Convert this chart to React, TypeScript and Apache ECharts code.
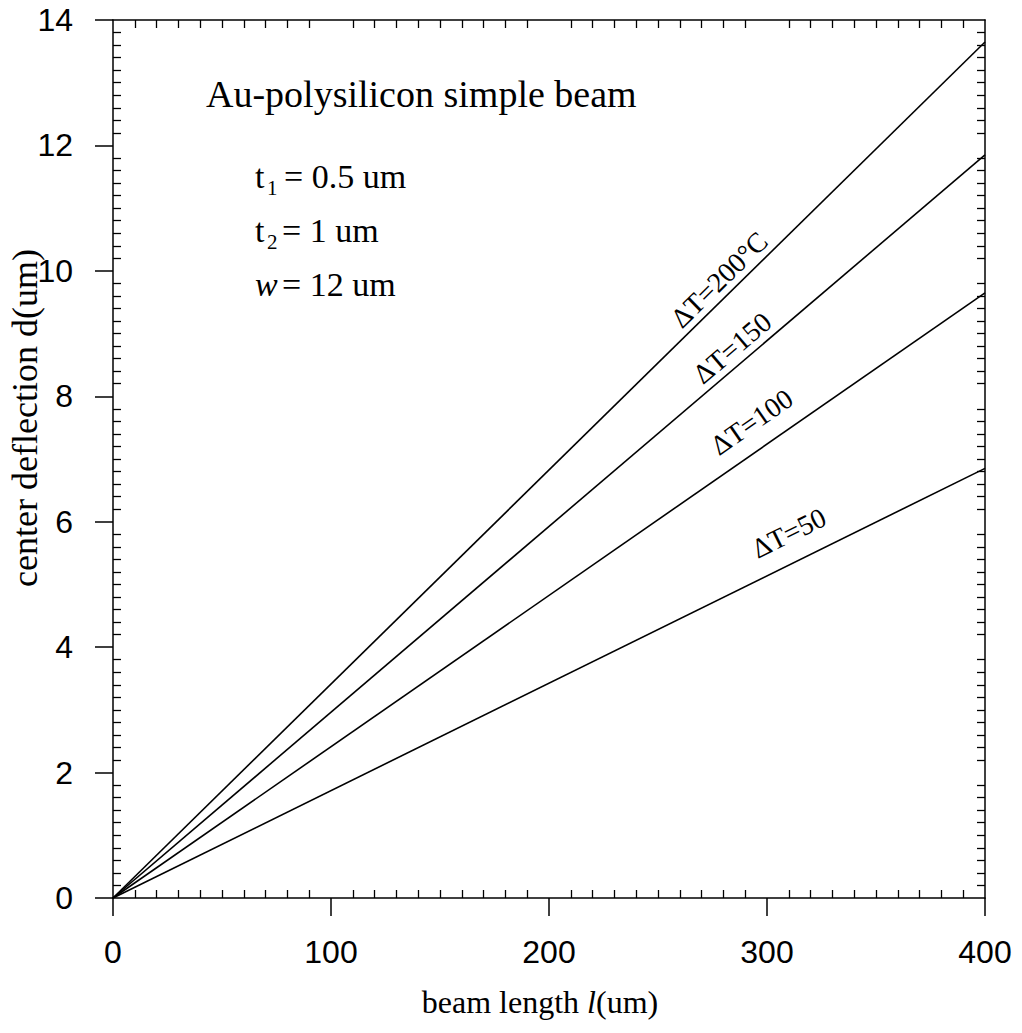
import React, { useEffect, useRef } from "react";
import * as echarts from "echarts";

// ---- data ----
const beamLength = [0, 400];
const deflection200 = [0, 13.65];
const deflection150 = [0, 11.85];
const deflection100 = [0, 9.65];
const deflection50 = [0, 6.85];
const seriesLabels = ["ΔT=200°C", "ΔT=150", "ΔT=100", "ΔT=50"];
// label anchor positions in data coordinates (beam length, deflection)
const labelAnchorX = [278, 284, 293, 310];
const labelAnchorY = [9.86, 8.77, 7.59, 5.82];
const xMin = 0, xMax = 400, xStep = 100;
const yMin = 0, yMax = 14, yStep = 2;

const SERIF = "'Liberation Serif', 'Times New Roman', serif";
const SANS = "'Liberation Sans', Arial, sans-serif";

const App: React.FC = () => {
  const ref = useRef<HTMLDivElement>(null);
  useEffect(() => {
    if (!ref.current) return;
    const chart = echarts.init(ref.current, undefined, { renderer: "svg" });
    const black = "#000";
    const gridRect = { left: 113, top: 20, width: 872, height: 878 };
    const minorTick = { show: true, splitNumber: 10, length: 8, lineStyle: { color: black, width: 1.3 } };
    const allSeries = [deflection200, deflection150, deflection100, deflection50];

    chart.setOption({
      animation: false,
      backgroundColor: "#fff",
      grid: [
        { ...gridRect, containLabel: false },
        { ...gridRect, containLabel: false },
      ],
      xAxis: [
        {
          gridIndex: 0, type: "value", position: "bottom", min: xMin, max: xMax, interval: xStep,
          axisLine: { show: true, onZero: false, lineStyle: { color: black, width: 1.5 } },
          axisTick: { show: true, inside: false, length: 18, lineStyle: { color: black, width: 1.5 } },
          axisLabel: { color: black, fontFamily: SANS, fontSize: 32, margin: 38 },
          splitLine: { show: false },
        },
        {
          gridIndex: 0, type: "value", position: "top", min: xMin, max: xMax, interval: xStep,
          axisLine: { show: true, onZero: false, lineStyle: { color: black, width: 1.5 } },
          axisTick: { show: false, inside: true },
          minorTick,
          axisLabel: { show: false },
          splitLine: { show: false },
        },
        {
          gridIndex: 1, type: "value", position: "bottom", min: xMin, max: xMax, interval: xStep,
          axisLine: { show: false, onZero: false },
          axisTick: { show: false, inside: true },
          minorTick,
          axisLabel: { show: false },
          splitLine: { show: false },
        },
      ],
      yAxis: [
        {
          gridIndex: 0, type: "value", position: "left", min: yMin, max: yMax, interval: yStep,
          axisLine: { show: true, onZero: false, lineStyle: { color: black, width: 1.5 } },
          axisTick: { show: true, inside: false, length: 18, lineStyle: { color: black, width: 1.5 } },
          axisLabel: { color: black, fontFamily: SANS, fontSize: 32, margin: 40 },
          splitLine: { show: false },
        },
        {
          gridIndex: 0, type: "value", position: "right", min: yMin, max: yMax, interval: yStep,
          axisLine: { show: true, onZero: false, lineStyle: { color: black, width: 1.5 } },
          axisTick: { show: false, inside: true },
          minorTick,
          axisLabel: { show: false },
          splitLine: { show: false },
        },
        {
          gridIndex: 1, type: "value", position: "left", min: yMin, max: yMax, interval: yStep,
          axisLine: { show: false, onZero: false },
          axisTick: { show: false, inside: true },
          minorTick,
          axisLabel: { show: false },
          splitLine: { show: false },
        },
      ],
      series: allSeries.map((vals, i) => ({
        name: seriesLabels[i],
        type: "line",
        xAxisIndex: 0,
        yAxisIndex: 0,
        showSymbol: false,
        symbol: "none",
        lineStyle: { color: black, width: 1.6 },
        data: beamLength.map((x, j) => [x, vals[j]]),
      })),
    });

    // labels placed via the chart's own coordinate conversion
    const toPx = (x: number, y: number) =>
      chart.convertToPixel({ xAxisIndex: 0, yAxisIndex: 0 }, [x, y]) as number[];
    const labelEls = allSeries.map((vals, i) => {
      const p0 = toPx(beamLength[0], vals[0]);
      const p1 = toPx(beamLength[beamLength.length - 1], vals[vals.length - 1]);
      const angle = Math.atan2(p0[1] - p1[1], p1[0] - p0[0]);
      const c = toPx(labelAnchorX[i], labelAnchorY[i]);
      return {
        type: "text", x: c[0], y: c[1], rotation: angle,
        style: { text: seriesLabels[i], font: `28px ${SERIF}`, fill: black, align: "center", verticalAlign: "middle" },
      };
    });

    const txt = (text: string, x: number, y: number, size: number, extra: any = {}) => ({
      type: "text", x, y,
      style: { text, font: `${extra.italic ? "italic " : ""}${size}px ${SERIF}`, fill: black, align: extra.align || "left", verticalAlign: "middle" },
    });

    chart.setOption({
      graphic: [
        ...labelEls,
        txt("Au-polysilicon simple beam", 206, 94, 38),
        txt("t", 255, 176, 34),
        txt("1", 267, 188, 21),
        txt("= 0.5 um", 284, 176, 34),
        txt("t", 255, 230, 34),
        txt("2", 267, 242, 21),
        txt("= 1 um", 282, 230, 34),
        txt("w", 255, 284, 34, { italic: true }),
        txt("= 12 um", 282, 284, 34),
        {
          type: "text", x: 25, y: 418, rotation: Math.PI / 2,
          style: { text: "center deflection d(um)", font: `36px ${SERIF}`, fill: black, align: "center", verticalAlign: "middle" },
        },
        {
          type: "text", x: 540, y: 1002,
          style: {
            text: "{a|beam length }{b|l}{a|(um)}",
            align: "center", verticalAlign: "middle", fill: black,
            rich: {
              a: { fontFamily: SERIF, fontSize: 32, fill: black },
              b: { fontFamily: SERIF, fontSize: 32, fontStyle: "italic", fill: black },
            },
          },
        },
      ],
    });

    return () => chart.dispose();
  }, []);
  return (
    <div
      ref={ref}
      style={{ position: "absolute", left: 0, top: 0, width: 1022, height: 1033, background: "#fff" }}
    />
  );
};

export default App;
